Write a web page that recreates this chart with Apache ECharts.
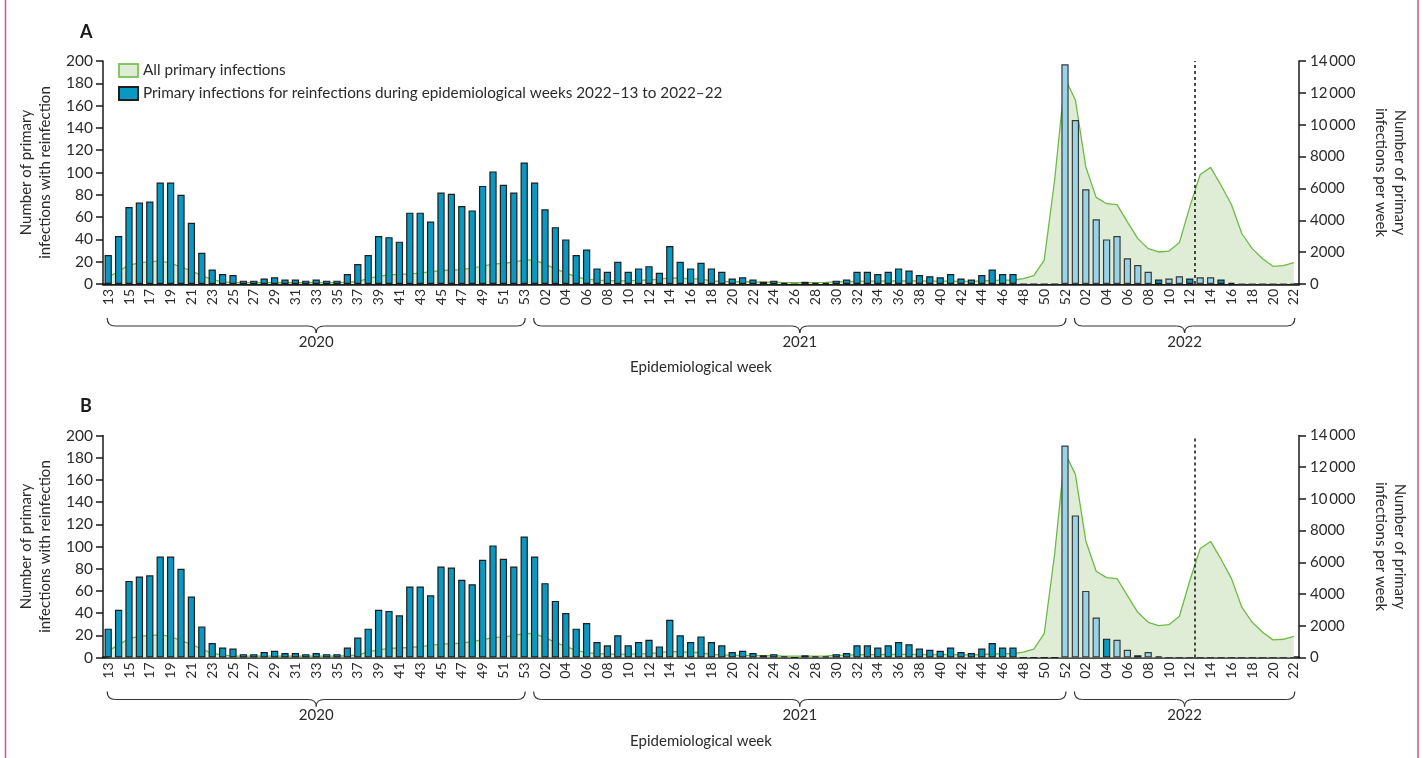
<!DOCTYPE html>
<html>
<head>
<meta charset="utf-8">
<script src="https://cdn.jsdelivr.net/npm/echarts@6/dist/echarts.min.js"></script>
<style>
  html, body { margin: 0; padding: 0; background: #fff; }
  #chart { width: 1423px; height: 758px; }
</style>
</head>
<body>
<div id="chart"></div>
<script>
// weeks: [year, first week, last week]
const weekRanges = [[2020, 13, 53], [2021, 1, 52], [2022, 1, 22]];
const categories = [];
weekRanges.forEach(([y, a, b]) => {
  for (let w = a; w <= b; w++) categories.push(y + '-' + String(w).padStart(2, '0'));
});

// primary infections with reinfection (left axis), panel A
const reinfA = [
  26, 43, 69, 73, 74, 91, 91, 80, 55, 28,
  13, 9, 8, 3, 3, 5, 6, 4, 4, 3,
  4, 3, 3, 9, 18, 26, 43, 42, 38, 64,
  64, 56, 82, 81, 70, 66, 88, 101, 89, 82,
  109, 91, 67, 51, 40, 26, 31, 14, 11, 20,
  11, 14, 16, 10, 34, 20, 14, 19, 14, 11,
  5, 6, 4, 2, 3, 1, 0, 2, 1, 1,
  3, 4, 11, 11, 9, 11, 14, 12, 8, 7,
  6, 9, 5, 4, 8, 13, 9, 9, 0, 0,
  0, 0, 197, 147, 85, 58, 40, 43, 23, 17,
  11, 4, 5, 7, 5, 6, 6, 4, 1, 0,
  0, 0, 0, 0, 0
];
// panel B
const reinfB = [
  26, 43, 69, 73, 74, 91, 91, 80, 55, 28,
  13, 9, 8, 3, 3, 5, 6, 4, 4, 3,
  4, 3, 3, 9, 18, 26, 43, 42, 38, 64,
  64, 56, 82, 81, 70, 66, 88, 101, 89, 82,
  109, 91, 67, 51, 40, 26, 31, 14, 11, 20,
  11, 14, 16, 10, 34, 20, 14, 19, 14, 11,
  5, 6, 4, 2, 3, 1, 0, 2, 1, 1,
  3, 4, 11, 11, 9, 11, 14, 12, 8, 7,
  6, 9, 5, 4, 8, 13, 9, 9, 0, 0,
  0, 0, 191, 128, 60, 36, 17, 16, 7, 2,
  5, 1, 0, 0, 0, 0, 0, 0, 0, 0,
  0, 0, 0, 0, 0
];
// all primary infections per week (right axis)
const allPrimary = [
  420, 800, 1190, 1330, 1400, 1430, 1330, 1050, 840, 520,
  280, 150, 90, 90, 90, 90, 90, 90, 90, 90,
  90, 90, 90, 110, 150, 350, 480, 570, 600, 630,
  680, 770, 840, 880, 900, 1000, 1120, 1250, 1300, 1380,
  1520, 1500, 1250, 950, 700, 450, 310, 240, 230, 200,
  210, 230, 250, 310, 380, 360, 330, 300, 200, 170,
  150, 140, 130, 120, 110, 90, 90, 90, 90, 100,
  130, 150, 170, 180, 180, 190, 200, 200, 190, 180,
  180, 180, 170, 170, 190, 220, 240, 250, 340, 530,
  1500, 6500, 12900, 11550, 7350, 5440, 5040, 4980, 3900, 2850,
  2220, 2010, 2070, 2600, 4840, 6870, 7320, 6200, 4990, 3170,
  2220, 1590, 1110, 1150, 1340
];
const lightFrom = '2021-52';
const darkWeeksA = ['2022-09', '2022-12', '2022-15', '2022-16'];
const darkWeeksB = ['2022-04', '2022-07', '2022-09'];
const cutoffWeek = '2022-13';

const FONT = 'Lato';
const TXT = '#2b2b2b';
const TEAL = '#0898c2';
const LIGHT = '#98d3e7';
const GREEN = '#6dbb46';
const GREEN_FILL = '#e0edd6';
const legendAll = 'All primary infections';
const legendBar = 'Primary infections for reinfections during epidemiological weeks 2022\u201313 to 2022\u201322';

const panels = [
  { top: 61, height: 223, data: reinfA, dark: darkWeeksA, label: 'A' },
  { top: 435.5, height: 222, data: reinfB, dark: darkWeeksB, label: 'B' }
];
const lightIdx = categories.indexOf(lightFrom);
const cutIdx = categories.indexOf(cutoffWeek);

const chart = echarts.init(document.getElementById('chart'));
const grid = [], xAxis = [], yAxis = [], series = [];

panels.forEach((p, k) => {
  grid.push({ left: 103, width: 1196, top: p.top, height: p.height });
  xAxis.push({
    type: 'category', gridIndex: k, data: categories, boundaryGap: true,
    axisLine: { lineStyle: { color: '#1a1a1a', width: 2.5 } },
    axisTick: { show: false },
    axisLabel: {
      rotate: 90, interval: 1, margin: 5, fontSize: 14, color: TXT, fontFamily: FONT,
      formatter: v => v.slice(5)
    },
    name: 'Epidemiological week', nameLocation: 'middle', nameGap: 76,
    nameTextStyle: { fontSize: 15, color: TXT, fontFamily: FONT }
  });
  xAxis.push({ type: 'value', gridIndex: k, min: 0, max: categories.length, show: false });
  yAxis.push({
    type: 'value', gridIndex: k, min: 0, max: 200, interval: 20,
    axisLine: { show: true, lineStyle: { color: '#1a1a1a', width: 1.5 } },
    axisTick: { show: true, length: 7, lineStyle: { color: '#1a1a1a', width: 1.5 } },
    axisLabel: { fontSize: 15.5, color: TXT, fontFamily: FONT, margin: 10 },
    splitLine: { show: false },
    name: 'Number of primary\ninfections with reinfection', nameLocation: 'middle',
    nameRotate: 90, nameGap: 44,
    nameTextStyle: { fontSize: 15, color: TXT, fontFamily: FONT, lineHeight: 19 }
  });
  yAxis.push({
    type: 'value', gridIndex: k, position: 'right', min: 0, max: 14000, interval: 2000,
    axisLine: { show: true, lineStyle: { color: '#1a1a1a', width: 1.5 } },
    axisTick: { show: true, length: 7, lineStyle: { color: '#1a1a1a', width: 1.5 } },
    axisLabel: {
      fontSize: 15, color: TXT, fontFamily: FONT, margin: 11,
      formatter: v => v >= 10000 ? String(v).slice(0, 2) + '\u2009' + String(v).slice(2) : String(v)
    },
    splitLine: { show: false },
    name: 'Number of primary\ninfections per week', nameLocation: 'middle',
    nameRotate: -90, nameGap: 72,
    nameTextStyle: { fontSize: 15, color: TXT, fontFamily: FONT, lineHeight: 19 }
  });

  series.push({
    name: legendAll, type: 'scatter', xAxisIndex: k * 2, yAxisIndex: k * 2, data: [],
    itemStyle: { color: '#d6e9c8', borderColor: GREEN, borderWidth: 1.2 }
  });
  series.push({
    name: 'area' + k, type: 'line', xAxisIndex: k * 2, yAxisIndex: k * 2 + 1,
    data: allPrimary, symbol: 'none', z: 1, silent: true,
    lineStyle: { color: GREEN, width: 1.3 },
    areaStyle: { color: GREEN_FILL, opacity: 1 }
  });
  series.push({
    name: legendBar, type: 'bar', xAxisIndex: k * 2, yAxisIndex: k * 2,
    barCategoryGap: '30%', z: 2,
    itemStyle: { color: TEAL, borderColor: '#1e1e1e', borderWidth: 1.2 },
    data: p.data.map((v, i) => {
      const light = i >= lightIdx && p.dark.indexOf(categories[i]) < 0;
      return light
        ? { value: v, itemStyle: { color: LIGHT, borderColor: '#3a3a3a' } }
        : v;
    })
  });
  series.push({
    name: 'cutoff' + k, type: 'line', xAxisIndex: k * 2 + 1, yAxisIndex: k * 2,
    data: [[cutIdx, 0], [cutIdx, 200]], symbol: 'none', z: 3, silent: true,
    lineStyle: { color: '#111', width: 1.5, type: [3, 3] }
  });
});

chart.setOption({
  animation: false,
  textStyle: { fontFamily: FONT },
  grid, xAxis, yAxis, series,
  legend: {
    data: [legendAll, legendBar], orient: 'vertical', left: 113, top: 58,
    icon: 'rect', itemWidth: 19, itemHeight: 13, itemGap: 8, selectedMode: false,
    textStyle: { fontSize: 15.3, color: TXT, fontFamily: FONT }
  }
});

// braces and year labels under the week labels, frame and panel letters
const graphic = [
  { type: 'line', shape: { x1: 5.5, y1: 0, x2: 5.5, y2: 758 }, style: { stroke: '#c95a78', lineWidth: 1.5 } },
  { type: 'line', shape: { x1: 1418, y1: 0, x2: 1418, y2: 758 }, style: { stroke: '#c95a78', lineWidth: 1.5 } }
];
const braceStyle = { stroke: '#333', lineWidth: 1.2, fill: null };
function curve(xa, ya, cx, cy, xb, yb) {
  return { type: 'bezierCurve', shape: { x1: xa, y1: ya, cpx1: cx, cpy1: cy, x2: xb, y2: yb }, style: braceStyle };
}
function straight(xa, ya, xb, yb) {
  return { type: 'line', shape: { x1: xa, y1: ya, x2: xb, y2: yb }, style: braceStyle };
}
panels.forEach((p, k) => {
  graphic.push({
    type: 'text', x: 80, y: p.top - 38,
    style: { text: p.label, font: 'bold 18px ' + FONT, fill: '#1a1a1a' }
  });
  const bottom = p.top + p.height;
  const y0 = bottom + 34, ym = y0 + 8, ty = y0 + 15;
  weekRanges.forEach(([yr]) => {
    const idx = categories.map((c, i) => c.startsWith(yr + '-') ? i : -1).filter(i => i >= 0);
    const x1 = chart.convertToPixel({ xAxisIndex: k * 2 }, idx[0]) - 1;
    const x2 = chart.convertToPixel({ xAxisIndex: k * 2 }, idx[idx.length - 1]) + 1;
    const xm = (x1 + x2) / 2;
    graphic.push(
      curve(x1, y0, x1, ym, x1 + 8, ym),
      straight(x1 + 8, ym, xm - 8, ym),
      curve(xm - 8, ym, xm, ym, xm, ty),
      curve(xm, ty, xm, ym, xm + 8, ym),
      straight(xm + 8, ym, x2 - 8, ym),
      curve(x2 - 8, ym, x2, ym, x2, y0)
    );
    graphic.push({
      type: 'text', x: xm, y: bottom + 58,
      style: { text: String(yr), fill: TXT, font: '15px ' + FONT, align: 'center', verticalAlign: 'middle' }
    });
  });
});
chart.setOption({ graphic });
</script>
</body>
</html>
